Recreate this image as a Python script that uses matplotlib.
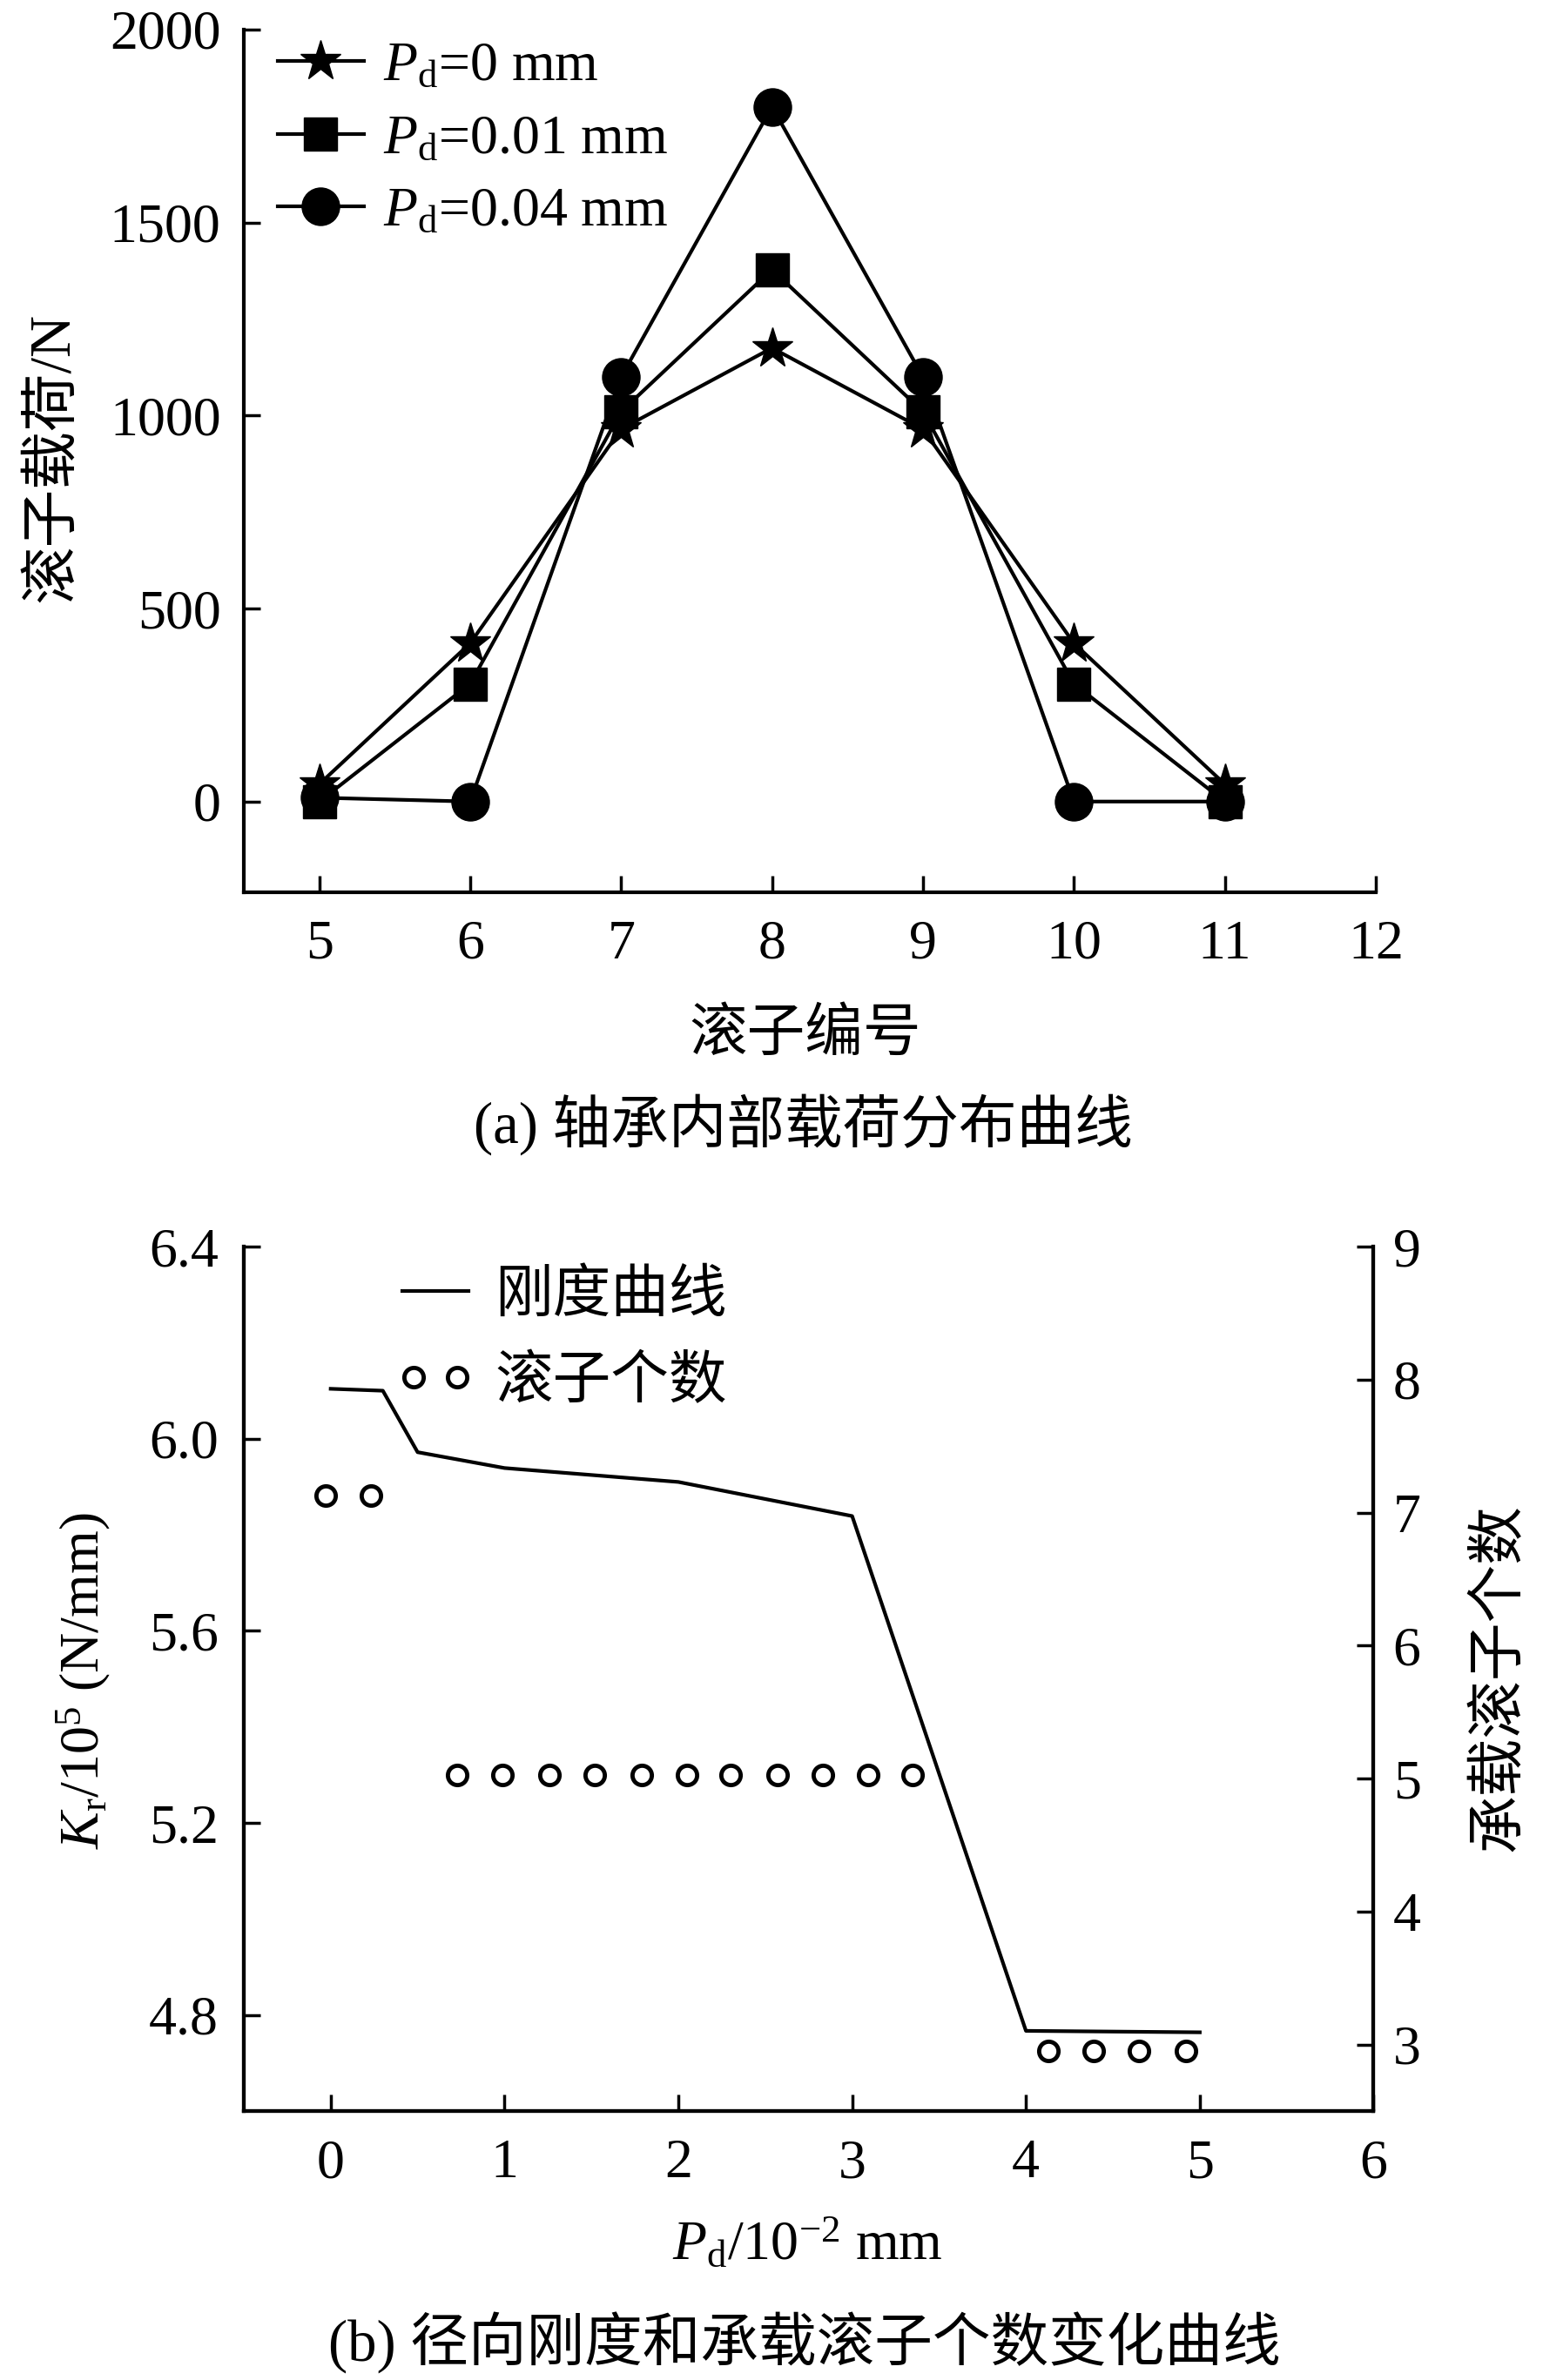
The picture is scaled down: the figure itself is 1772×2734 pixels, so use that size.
import matplotlib
matplotlib.use('Agg')
import matplotlib.pyplot as plt
from matplotlib.legend_handler import HandlerLine2D

plt.rcParams['font.family'] = ['Liberation Serif', 'Noto Sans CJK SC']
plt.rcParams['mathtext.fontset'] = 'custom'
plt.rcParams['mathtext.rm'] = 'Liberation Serif'
plt.rcParams['mathtext.it'] = 'Liberation Serif:italic'
plt.rcParams['axes.unicode_minus'] = False

# (a) roller load distribution
roller_no = [5, 6, 7, 8, 9, 10, 11]
load_pd0 = [45, 410, 965, 1175, 965, 410, 45]
load_pd001 = [0, 305, 1010, 1378, 1010, 305, 0]
load_pd004 = [10, 0, 1100, 1800, 1100, 0, 0]

# (b) radial stiffness and number of loaded rollers
pd_stiff = [0, 0.3, 0.5, 1.0, 2.0, 3.0, 4.0, 5.0]
stiffness = [6.104, 6.100, 5.972, 5.939, 5.910, 5.839, 4.767, 4.764]
pd_count = [-0.03, 0.23, 0.73, 0.99, 1.26, 1.52, 1.79, 2.05, 2.30, 2.57,
            2.83, 3.09, 3.35, 4.13, 4.39, 4.65, 4.92]
roller_count = [7.13, 7.13, 5.03, 5.03, 5.03, 5.03, 5.03, 5.03, 5.03, 5.03,
                5.03, 5.03, 5.03, 2.95, 2.95, 2.95, 2.95]

FS = 46      # numbers / latin text
FS_CN = 48   # chinese text
LW = 3

fig = plt.figure(figsize=(17.72, 27.34), dpi=100)


def style_ticks(ax, xpad=23, ypad=19):
    ax.tick_params(direction='in', length=14, width=2.5, labelsize=FS)
    ax.tick_params(axis='x', pad=xpad)
    ax.tick_params(axis='y', pad=ypad)


# ---------- top chart ----------
ax1 = fig.add_axes([0.158, 0.6251, 0.7336, 0.3625])
ax1.plot(roller_no, load_pd0, color='k', lw=LW, marker='*', ms=35,
         label=r'$P_\mathrm{d}$=0 mm')
ax1.plot(roller_no, load_pd001, color='k', lw=LW, marker='s', ms=28,
         label=r'$P_\mathrm{d}$=0.01 mm')
ax1.plot(roller_no, load_pd004, color='k', lw=LW, marker='o', ms=31,
         label=r'$P_\mathrm{d}$=0.04 mm')
ax1.set_xlim(4.5, 12)
ax1.set_ylim(-235, 2000)
ax1.set_xticks(range(5, 13))
ax1.set_yticks([0, 500, 1000, 1500, 2000])
for s in ['top', 'right']:
    ax1.spines[s].set_visible(False)
for s in ['left', 'bottom']:
    ax1.spines[s].set_linewidth(3)
style_ticks(ax1)
ax1.legend(loc='upper left', bbox_to_anchor=(0.03, 0.986), frameon=False,
           fontsize=FS, handlelength=1.55, handletextpad=0.35,
           labelspacing=0.39, borderpad=0, borderaxespad=0, numpoints=1)

fig.text(61 / 1772, 1 - 526 / 2734, '滚子载荷/N', fontsize=FS_CN, rotation=90,
         ha='center', va='center')
fig.text(925 / 1772, 1 - 1190 / 2734, '滚子编号', fontsize=FS_CN,
         ha='center', va='center')
fig.text(922 / 1772, 1 - 1292 / 2734, '(a) 轴承内部载荷分布曲线', fontsize=FS_CN,
         ha='center', va='center')

# ---------- bottom chart ----------
ax2 = fig.add_axes([0.158, 0.113, 0.7322, 0.3632])
stiff_line, = ax2.plot(pd_stiff, stiffness, color='k', lw=LW, label='刚度曲线')
ax2.set_xlim(-0.5, 6)
ax2.set_ylim(4.6, 6.4)
ax2.set_xticks(range(0, 7))
ax2.set_yticks([4.8, 5.2, 5.6, 6.0, 6.4])
ax2.set_yticklabels(['4.8', '5.2', '5.6', '6.0', '6.4'])
ax2.spines['top'].set_visible(False)
for s in ['left', 'bottom', 'right']:
    ax2.spines[s].set_linewidth(3)
style_ticks(ax2, ypad=21)

ax3 = ax2.twinx()
count_pts, = ax3.plot(pd_count, roller_count, ls='none', marker='o', ms=16,
                      mfc='white', mec='k', mew=3.5, label='滚子个数')
ax3.set_ylim(2.5, 9)
ax3.set_yticks(range(3, 10))
ax3.spines['top'].set_visible(False)
for s in ['left', 'bottom', 'right']:
    ax3.spines[s].set_linewidth(3)
style_ticks(ax3, ypad=16)

leg = ax3.legend(handles=[stiff_line, count_pts], loc='upper left',
                 bbox_to_anchor=(0.14, 0.973), frameon=False,
                 prop={'size': FS_CN},
                 handlelength=1.15, handletextpad=0.45, labelspacing=0.55,
                 borderpad=0, borderaxespad=0,
                 handler_map={stiff_line: HandlerLine2D(numpoints=1),
                              count_pts: HandlerLine2D(numpoints=2,
                                                       marker_pad=0.2)})

fig.text(96 / 1772, 1 - 1931 / 2734, r'$K_\mathrm{r}$/10$^{5}$ (N/mm)',
         fontsize=FS, rotation=90, ha='center', va='center')
fig.text(1722 / 1772, 1 - 1927 / 2734, '承载滚子个数', fontsize=FS_CN,
         rotation=90, ha='center', va='center')
fig.text(927 / 1772, 1 - 2578 / 2734, r'$P_\mathrm{d}$/10$^{-2}$ mm',
         fontsize=FS, ha='center', va='center')
fig.text(924 / 1772, 1 - 2691 / 2734, '(b) 径向刚度和承载滚子个数变化曲线',
         fontsize=FS_CN, ha='center', va='center')

fig.savefig('out.png', dpi=100)
